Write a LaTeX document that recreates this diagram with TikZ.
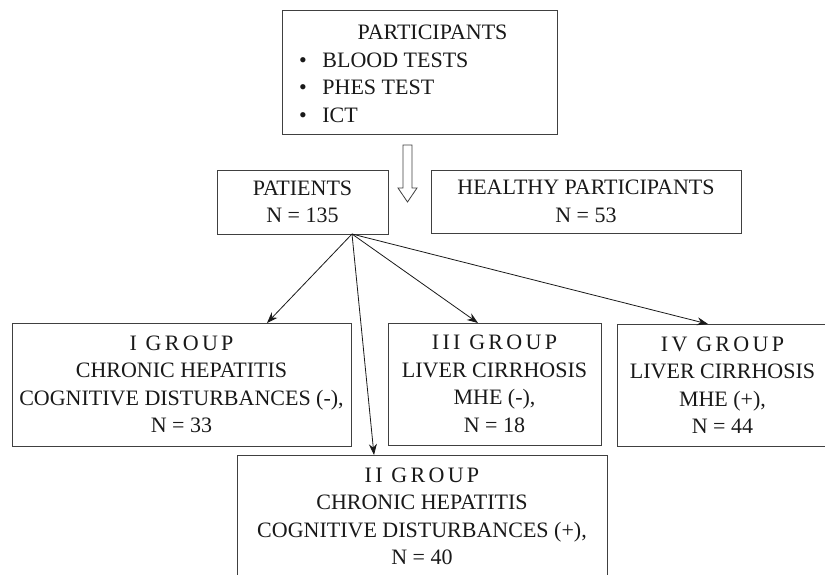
\documentclass[tikz,border=0pt]{standalone}
\usepackage{fontspec}
\setmainfont{Liberation Serif}
\newfontfamily\spacedfont[LetterSpace=15]{Liberation Serif}
\usetikzlibrary{arrows.meta}
\newcommand{\grp}[1]{{\spacedfont #1}}
\begin{document}
\begin{tikzpicture}[x=1pt,y=-1pt,
  box/.style={draw=black!75, line width=0.9pt, rectangle, inner sep=0pt, align=center, font=\fontsize{22}{27.5}\selectfont, text=black!90},
  txt/.style={inner sep=0pt, align=center, font=\fontsize{22}{27.5}\selectfont, text=black!90},
  arr/.style={draw=black!90, line width=0.8pt, -{Stealth[length=11pt,width=8pt]}},
  hollow/.style={draw=black!75, line width=0.8pt, fill=white}
]
\useasboundingbox (0,0) rectangle (825,574);
\clip (0,0) rectangle (825,574);

% top box
\node[box, minimum width=275pt, minimum height=124pt] (par) at (419.5,72) {};
\node[txt, anchor=base] (parT) at (432.5,39) {PARTICIPANTS};
\node[txt, align=left, anchor=north west] (parL) at (299,52.5) {\textbullet\hspace{15.5pt}BLOOD TESTS\\ \textbullet\hspace{15.5pt}PHES TEST\\ \textbullet\hspace{15.5pt}ICT};

% hollow arrow
\draw[hollow] (403,145) -- (412,145) -- (412,188) -- (417,188) -- (407.5,202) -- (398,188) -- (403,188) -- cycle;

% second row
\node[box, minimum width=171pt, minimum height=64pt] (pat) at (302.5,202) {PATIENTS\\N = 135};
\node[box, minimum width=310pt, minimum height=63pt] (hea) at (586,201.5) {HEALTHY PARTICIPANTS\\N = 53};

% groups
\node[box, minimum width=339pt, minimum height=123pt] (g1) at (181.5,384.5) {\grp{I GROUP}\\CHRONIC HEPATITIS\\COGNITIVE DISTURBANCES (-),\\N = 33};
\node[box, minimum width=213pt, minimum height=122pt] (g3) at (494.5,384) {\grp{III GROUP}\\LIVER CIRRHOSIS\\MHE (-),\\N = 18};
\node[box, minimum width=211pt, minimum height=122pt] (g4) at (722.5,385) {\grp{IV GROUP}\\LIVER CIRRHOSIS\\MHE (+),\\N = 44};
\node[box, minimum width=370pt, minimum height=150pt] (g2) at (422,530) {};
\node[txt, anchor=north] (g2t) at (422,467.5) {\grp{II GROUP}\\CHRONIC HEPATITIS\\COGNITIVE DISTURBANCES (+),\\N = 40};

% connectors
\coordinate (o) at (352,234);
\coordinate (t1) at (267,323);
\coordinate (t2) at (374,455);
\coordinate (t3) at (478,323);
\coordinate (t4) at (708,324);
\draw[arr] (o) -- (t1);
\draw[arr] (o) -- (t2);
\draw[arr] (o) -- (t3);
\draw[arr] (o) -- (t4);
\end{tikzpicture}
\end{document}
